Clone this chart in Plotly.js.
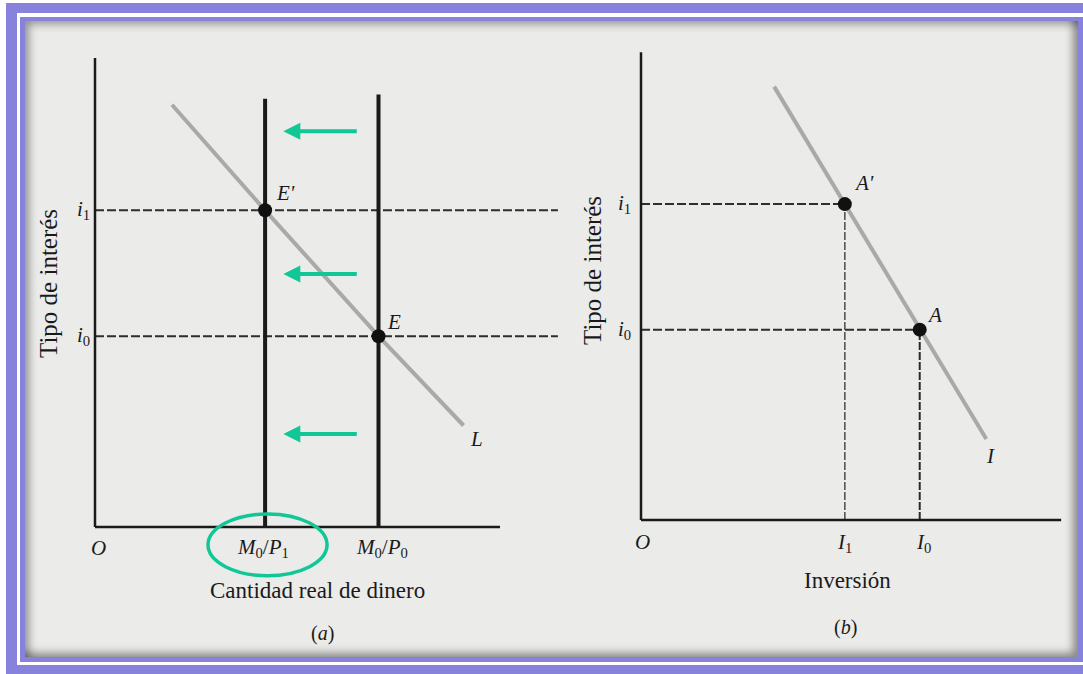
<!DOCTYPE html>
<html>
<head>
<meta charset="utf-8">
<script src="https://cdn.plot.ly/plotly-3.0.1.min.js"></script>
<style>
  html, body { margin:0; padding:0; width:1083px; height:674px; overflow:hidden; background:#ffffff; }
  .f { position:absolute; }
  #outer { left:6px; top:3px; width:1100px; height:700px; background:#8783dd; }
  #gap { left:17px; top:13px; width:1090px; height:652px; background:#ffffff; }
  #inner { left:20px; top:17px; width:1090px; height:645px; background:#8783dd; }
  #paper { left:25px; top:21px; width:1053px; height:636px; background:#ebebe9;
           box-shadow: inset 7px 6px 9px -3px rgba(0,0,0,0.38), inset -8px -7px 9px -3px rgba(0,0,0,0.42); }
  #chart { left:0; top:0; width:1083px; height:674px; }
</style>
</head>
<body>
<div id="outer" class="f"></div>
<div id="gap" class="f"></div>
<div id="inner" class="f"></div>
<div id="paper" class="f"></div>
<div id="chart" class="f"></div>
<script>
// ---------- data (abstract diagram units) ----------
// Panel (a): money market
const interestRates = [4.7, 7.8];          // i0, i1
const interestLabels = ['0', '1'];
const realMoney = [7.0, 4.2];              // M0/P0, M0/P1
const realMoneyLabels = ['0', '1'];        // P subscripts
const realMoneyTops = [10.65, 10.55];      // top ends of the vertical supply lines
const L_x = [1.9, 4.2, 7.0, 9.1];          // money demand curve L
const L_y = [10.4, 7.8, 4.7, 2.5];
const pointsA_labels = ['E', "E'"];        // at (M0/P0,i0), (M0/P1,i1)
const axisTopA = 11.55, axisRightA = 10.0, dashEndA = 11.43;
const arrowLevels = [9.75, 6.23, 2.29];    // green shift arrows
const arrowFrom = 6.5, arrowTo = 4.65;

// Panel (b): investment
const investment = [6.7, 4.9];             // I0, I1
const investmentLabels = ['0', '1'];
const I_x = [3.2, 4.9, 6.7, 8.3];          // investment curve I
const I_y = [10.7, 7.8, 4.7, 2.0];
const pointsB_labels = ['A', "A'"];
const axisTopB = 11.55, axisRightB = 10.1;

// ---------- layout constants (pixel geometry) ----------
const W = 1083, H = 674;
const A = {ox:95, oy:527, ux:40.5, uy:40.6};
const B = {ox:641, oy:520, ux:41.6, uy:40.5};
function xr(p){ return [-p.ox/p.ux, (W-p.ox)/p.ux]; }
function yr(p){ return [(p.oy-H)/p.uy, p.oy/p.uy]; }

const INK = '#1a1a1a', GRAY = '#a9a9a9', GREEN = '#10c795', TXT = '#1a1a1a';
const SERIF = 'Liberation Serif, Times New Roman, serif';
const traces = [];
function line(xs, ys, ax, opts){
  traces.push(Object.assign({type:'scatter', mode:'lines', x:xs, y:ys,
    xaxis: ax==='b' ? 'x2':'x', yaxis: ax==='b' ? 'y2':'y', hoverinfo:'skip',
    line:{color:INK, width:2.5}}, opts||{}));
}

// ----- Panel (a) -----
interestRates.forEach(v => line([0, dashEndA], [v, v], 'a', {line:{color:'#2e2e2e', width:2, dash:'9px,3px'}}));
line(L_x, L_y, 'a', {line:{color:GRAY, width:4}});
realMoney.forEach((v,k) => line([v, v], [0, realMoneyTops[k]], 'a', {line:{color:INK, width:4}}));
line([0, 0], [0, axisTopA], 'a');
line([0, axisRightA], [0, 0], 'a');
traces.push({type:'scatter', mode:'markers', x:realMoney, y:interestRates, xaxis:'x', yaxis:'y',
  hoverinfo:'skip', marker:{color:'#111', size:14}});

// ----- Panel (b) -----
interestRates.forEach((v,k) => line([0, investment[k]], [v, v], 'b', {line:{color:'#2e2e2e', width:2, dash:'9px,3px'}}));
investment.forEach((v,k) => line([v, v], [0, interestRates[k]], 'b',
  {line:{color: k===0 ? '#2a2a2a' : '#555555', width: k===0 ? 2 : 1.6, dash:'8px,2px'}}));
line(I_x, I_y, 'b', {line:{color:GRAY, width:4}});
line([0, 0], [0, axisTopB], 'b');
line([0, axisRightB], [0, 0], 'b');
traces.push({type:'scatter', mode:'markers', x:investment, y:interestRates, xaxis:'x2', yaxis:'y2',
  hoverinfo:'skip', marker:{color:'#111', size:14}});

// ---------- annotations ----------
const ann = [];
function txt(text, x, y, ax, dx, dy, size, extra){
  ann.push(Object.assign({text:text, x:x, y:y,
    xref: ax==='b'?'x2':(ax==='p'?'paper':'x'), yref: ax==='b'?'y2':(ax==='p'?'paper':'y'),
    xshift:dx||0, yshift:dy||0, showarrow:false, xanchor:'center', yanchor:'middle',
    font:{family:SERIF, size:size||20, color:TXT}}, extra||{}));
}
// Panel (a) labels
interestRates.forEach((v,k) => txt('<i>i</i><sub>'+interestLabels[k]+'</sub>', 0, v, 'a', -12, 0, 21));
txt('<i>O</i>', 0, 0, 'a', 3, -21, 21);
realMoney.forEach((v,k) => txt('<i>M</i><sub>0</sub>/<i>P</i><sub>'+realMoneyLabels[k]+'</sub>', v, 0, 'a', k===0?3:-2, -21, 21));
txt('<i>'+pointsA_labels[0]+'</i>', realMoney[0], interestRates[0], 'a', 15, 14, 21);
txt('<i>'+pointsA_labels[1]+'</i>', realMoney[1], interestRates[1], 'a', 20, 17, 21);
txt('<i>L</i>', L_x[L_x.length-1], L_y[L_y.length-1], 'a', 13, -13, 21);
txt('Cantidad real de dinero', 317/W, 1-590/H, 'p', 0, 0, 23);
txt('(<i>a</i>)', 322/W, 1-633/H, 'p', 0, 0, 20);
txt('Tipo de interés', 48/W, 1-284/H, 'p', 0, 0, 25, {textangle:-90});
// green arrows
arrowLevels.forEach(v => ann.push({x:arrowTo, y:v, ax:arrowFrom, ay:v, xref:'x', yref:'y', axref:'x', ayref:'y',
  showarrow:true, arrowhead:2, arrowsize:0.85, arrowwidth:4, arrowcolor:GREEN, text:''}));

// Panel (b) labels
interestRates.forEach((v,k) => txt('<i>i</i><sub>'+interestLabels[k]+'</sub>', 0, v, 'b', -17, 0, 21));
txt('<i>O</i>', 0, 0, 'b', 1, -22, 21);
investment.forEach((v,k) => txt('<i>I</i><sub>'+investmentLabels[k]+'</sub>', v, 0, 'b', k===0?4:0, -23, 21));
txt('<i>'+pointsB_labels[0]+'</i>', investment[0], interestRates[0], 'b', 15, 15, 21);
txt('<i>'+pointsB_labels[1]+'</i>', investment[1], interestRates[1], 'b', 19, 21, 21);
txt('<i>I</i>', I_x[I_x.length-1], I_y[I_y.length-1], 'b', 4, -17, 21);
txt('Inversión', 847/W, 1-580/H, 'p', 0, 0, 23);
txt('(<i>b</i>)', 845/W, 1-627/H, 'p', 0, 0, 20);
txt('Tipo de interés', 592/W, 1-271/H, 'p', 0, 0, 25, {textangle:-90});

// ---------- shapes: green ellipse around M0/P1 ----------
const shapes = [{type:'circle', xref:'x', yref:'y',
  x0: realMoney[1] + 0.06 - 1.47, x1: realMoney[1] + 0.06 + 1.47,
  y0: -0.44 - 0.76, y1: -0.44 + 0.76,
  line:{color:GREEN, width:3.5}, fillcolor:'rgba(0,0,0,0)'}];

const hidden = {visible:false, fixedrange:true, showgrid:false, zeroline:false};
const layout = {
  width:W, height:H, margin:{l:0, r:0, t:0, b:0, pad:0},
  paper_bgcolor:'rgba(0,0,0,0)', plot_bgcolor:'rgba(0,0,0,0)',
  showlegend:false,
  xaxis: Object.assign({domain:[0,1], range:xr(A)}, hidden),
  yaxis: Object.assign({domain:[0,1], range:yr(A)}, hidden),
  xaxis2: Object.assign({domain:[0,1], range:xr(B), overlaying:'x', anchor:'y2'}, hidden),
  yaxis2: Object.assign({domain:[0,1], range:yr(B), overlaying:'y', anchor:'x2'}, hidden),
  annotations: ann, shapes: shapes
};
Plotly.newPlot('chart', traces, layout, {staticPlot:true, displayModeBar:false});
</script>
</body>
</html>
